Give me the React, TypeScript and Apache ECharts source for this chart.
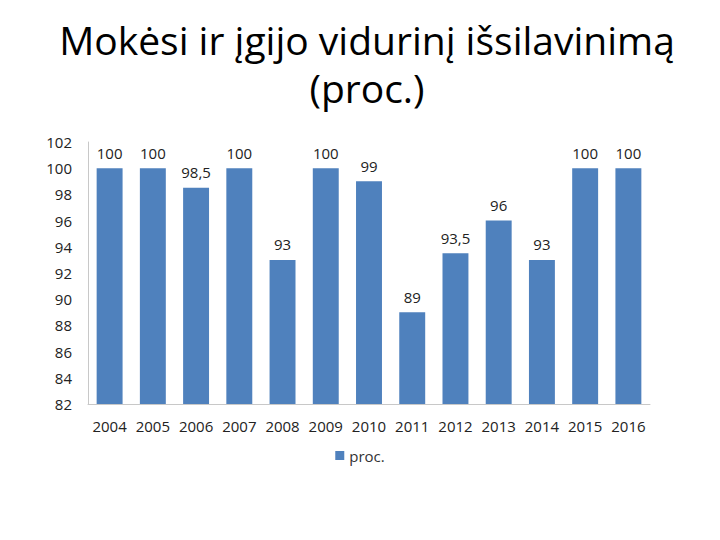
import React, { useEffect, useRef } from "react";
import * as echarts from "echarts";

const titleLines = ["Mokėsi ir įgijo vidurinį išsilavinimą", "(proc.)"];
const years = ["2004", "2005", "2006", "2007", "2008", "2009", "2010", "2011", "2012", "2013", "2014", "2015", "2016"];
const values = [100, 100, 98.5, 100, 93, 100, 99, 89, 93.5, 96, 93, 100, 100];
const seriesName = "proc.";

export default function App() {
  const ref = useRef<HTMLDivElement>(null);
  useEffect(() => {
    const chart = echarts.init(ref.current!, null, { renderer: "svg" });
    const font = "Open Sans, Noto Sans, sans-serif";
    chart.setOption({
      animation: false,
      backgroundColor: "#ffffff",
      title: {
        text: titleLines.join("\n"),
        left: 362,
        textAlign: "center",
        top: 10,
        textStyle: {
          fontFamily: font,
          fontSize: 39,
          fontWeight: "normal",
          color: "#000000",
          lineHeight: 48,
        },
      },
      legend: {
        data: [seriesName],
        bottom: 72,
        left: "center",
        itemWidth: 9,
        itemHeight: 9,
        icon: "rect",
        textStyle: { fontFamily: font, fontSize: 15, color: "#333" },
      },
      grid: { left: 88, right: 70, top: 142, bottom: 136 },
      xAxis: {
        type: "category",
        data: years,
        axisLine: { show: true, lineStyle: { color: "#c8c8c8" } },
        axisTick: { show: false },
        axisLabel: { fontFamily: font, fontSize: 15, color: "#222", margin: 14, interval: 0 },
      },
      yAxis: {
        type: "value",
        min: 82,
        max: 102,
        interval: 2,
        axisLine: { show: true, lineStyle: { color: "#c8c8c8" } },
        axisTick: { show: false },
        splitLine: { show: false },
        axisLabel: { fontFamily: font, fontSize: 15, color: "#222", margin: 16 },
      },
      series: [
        {
          name: seriesName,
          type: "bar",
          data: values,
          barWidth: "60%",
          itemStyle: { color: "#4F81BD" },
          label: {
            show: true,
            position: "top",
            distance: 8,
            fontFamily: font,
            fontSize: 15,
            color: "#222",
            formatter: (p: any) => String(p.value).replace(".", ","),
          },
        },
      ],
    });
    return () => chart.dispose();
  }, []);
  return <div ref={ref} style={{ width: 720, height: 540, margin: -8 }} />;
}
